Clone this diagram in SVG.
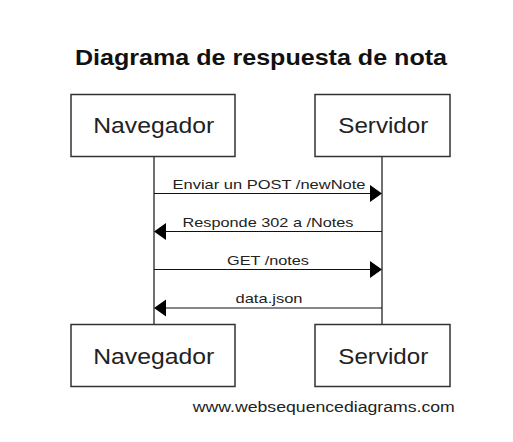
<svg xmlns="http://www.w3.org/2000/svg" width="513" height="442" viewBox="0 0 513 442">
<style>
.box{fill:#fff;stroke:#333;stroke-width:1.5}
.life{stroke:#111;stroke-width:1.2}
.msg{stroke:#111;stroke-width:1.2}
.head{fill:#000}
.pt{font-family:"Liberation Sans",Arial,sans-serif;font-size:22px;fill:#222;text-anchor:middle}
.lbl{font-family:"Liberation Sans",Arial,sans-serif;font-size:13.5px;fill:#222;text-anchor:middle}
.title{font-family:"Liberation Sans",Arial,sans-serif;font-size:22px;font-weight:bold;fill:#111;text-anchor:middle}
.foot{font-family:"Liberation Sans",Arial,sans-serif;font-size:14px;fill:#222;text-anchor:middle}
</style>
<rect width="513" height="442" fill="#fff"/>
<text class="title" x="261" y="64.5" textLength="372" lengthAdjust="spacingAndGlyphs">Diagrama de respuesta de nota</text>
<g id="lifelines">
<line class="life" x1="154" y1="156" x2="154" y2="324"/>
<line class="life" x1="382" y1="156" x2="382" y2="324"/>
</g>
<g id="nav-top"><rect class="box" x="71" y="94.5" width="164" height="62"/><text class="pt" x="153.7" y="133" textLength="121" lengthAdjust="spacingAndGlyphs">Navegador</text></g>
<g id="srv-top"><rect class="box" x="315" y="94.5" width="135" height="62"/><text class="pt" x="383.3" y="133" textLength="90" lengthAdjust="spacingAndGlyphs">Servidor</text></g>
<g id="nav-bottom"><rect class="box" x="71" y="324.5" width="164" height="62"/><text class="pt" x="153.7" y="363.5" textLength="121" lengthAdjust="spacingAndGlyphs">Navegador</text></g>
<g id="srv-bottom"><rect class="box" x="315" y="324.5" width="135" height="62"/><text class="pt" x="383.3" y="363.5" textLength="90" lengthAdjust="spacingAndGlyphs">Servidor</text></g>
<g id="connectors">
<line class="msg" x1="154" y1="193.5" x2="371" y2="193.5"/>
<polygon class="head" points="370,185 382,193.5 370,202"/>
<text class="lbl" x="269" y="188.5" textLength="193" lengthAdjust="spacingAndGlyphs">Enviar un POST /newNote</text>
<line class="msg" x1="382" y1="231.5" x2="165" y2="231.5"/>
<polygon class="head" points="166,223 154,231.5 166,240"/>
<text class="lbl" x="268" y="226.5" textLength="171" lengthAdjust="spacingAndGlyphs">Responde 302 a /Notes</text>
<line class="msg" x1="154" y1="269.5" x2="371" y2="269.5"/>
<polygon class="head" points="370,261 382,269.5 370,278"/>
<text class="lbl" x="268" y="264.5" textLength="82" lengthAdjust="spacingAndGlyphs">GET /notes</text>
<line class="msg" x1="382" y1="308" x2="165" y2="308"/>
<polygon class="head" points="166,299.5 154,308 166,316.5"/>
<text class="lbl" x="269" y="302.5" textLength="67" lengthAdjust="spacingAndGlyphs">data.json</text>
</g>
<text class="foot" x="323.8" y="412" textLength="262" lengthAdjust="spacingAndGlyphs">www.websequencediagrams.com</text>
</svg>
